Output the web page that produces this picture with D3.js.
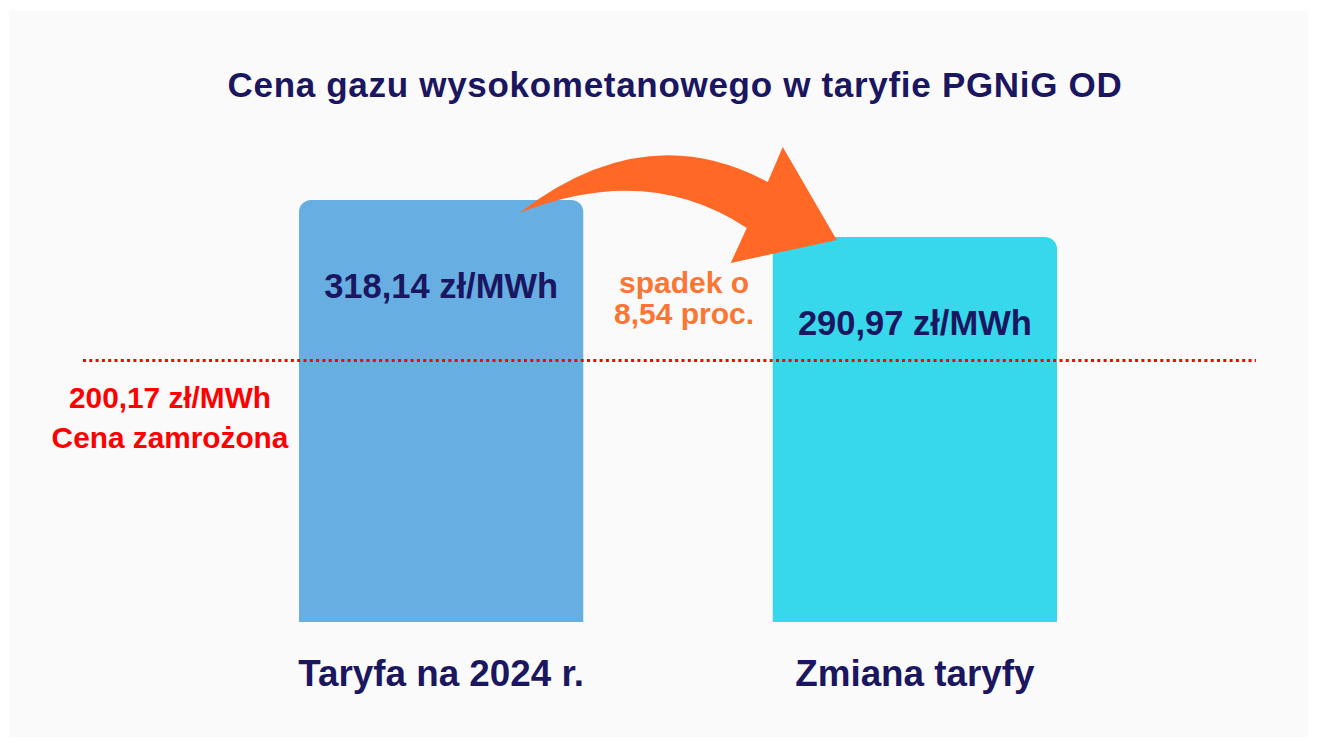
<!DOCTYPE html>
<html>
<head>
<meta charset="utf-8">
<style>
    body { margin: 0; background: #ffffff; }
    svg { display: block; font-family: 'Liberation Sans', Arimo, Arial, sans-serif; }
    .title { font-size: 35px; font-weight: bold; fill: #1b1660; }
    .val { font-size: 34.5px; font-weight: bold; fill: #1b1660; }
    .cat { font-size: 36.8px; font-weight: bold; fill: #1b1660; }
    .note { font-size: 30px; font-weight: bold; fill: #fb7533; }
    .ref { font-size: 29.8px; font-weight: bold; fill: #ff0000; }
</style>
</head>
<body>
<svg width="1317" height="746"></svg>

<script src="https://d3js.org/d3.v7.min.js"></script>
<script>
    // data
    let categories = ["Taryfa na 2024 r.", "Zmiana taryfy"]
    let prices = [318.14, 290.97]
    let priceLabels = ["318,14 zł/MWh", "290,97 zł/MWh"]
    let barColors = ["#67aee3", "#37d7ec"]
    let frozenPrice = 200.17
    let frozenLabels = ["200,17 zł/MWh", "Cena zamrożona"]
    let changeLabels = ["spadek o", "8,54 proc."]
    let title = "Cena gazu wysokometanowego w taryfie PGNiG OD"

    let width = 1317
    let height = 746
    let baseline = 622

    let svg = d3.select("svg")

    // light panel
    svg.append("rect")
        .attr("x", 9).attr("y", 11)
        .attr("width", width - 18).attr("height", height - 20)
        .style("fill", "#fafafa")

    let x = d3.scaleBand()
        .domain(categories)
        .range([299, 1057])
        .paddingInner(0.4)
        .paddingOuter(0)

    let y = d3.scaleLinear()
        .domain([0, 318.14])
        .range([633, 200])

    svg.append("text")
        .attr("class", "title")
        .attr("x", 675).attr("y", 97)
        .attr("text-anchor", "middle")
        .style("letter-spacing", "0.7px")
        .text(title)

    // bars with rounded top corners
    function barPath(x0, w, top, bottom, r) {
        let p = d3.path()
        p.moveTo(x0, bottom)
        p.lineTo(x0, top + r)
        p.arcTo(x0, top, x0 + r, top, r)
        p.lineTo(x0 + w - r, top)
        p.arcTo(x0 + w, top, x0 + w, top + r, r)
        p.lineTo(x0 + w, bottom)
        p.closePath()
        return p.toString()
    }

    svg.selectAll(".bar")
        .data(prices)
        .join("path")
        .attr("class", "bar")
        .attr("d", (d, i) => barPath(x(categories[i]), x.bandwidth(), y(d), baseline, 12))
        .style("fill", (d, i) => barColors[i])

    // curved arrow between the bars
    let x1 = x(categories[0]) + x.bandwidth()
    let x2 = x(categories[1])
    let t1 = y(prices[0])
    let t2 = y(prices[1])
    let a = d3.path()
    a.moveTo(x1 - 64, t1 + 13)
    a.quadraticCurveTo(x1 + 62, t1 - 84, x2 - 5, t1 - 18)
    a.lineTo(x2 + 10, t1 - 53)
    a.lineTo(x2 + 64, t2 + 3)
    a.lineTo(x2 - 42, t2 + 26)
    a.lineTo(x2 - 26, t2 - 9)
    a.quadraticCurveTo(x1 + 64, t1 - 38, x1 - 64, t1 + 13)
    a.closePath()
    svg.append("path")
        .attr("d", a.toString())
        .style("fill", "#ff6825")

    svg.selectAll(".val")
        .data(priceLabels)
        .join("text")
        .attr("class", "val")
        .attr("x", (d, i) => x(categories[i]) + x.bandwidth() / 2)
        .attr("y", (d, i) => y(prices[i]) + 98)
        .attr("text-anchor", "middle")
        .text(d => d)

    svg.selectAll(".cat")
        .data(categories)
        .join("text")
        .attr("class", "cat")
        .attr("x", d => x(d) + x.bandwidth() / 2)
        .attr("y", 686)
        .attr("text-anchor", "middle")
        .text(d => d)

    svg.selectAll(".note")
        .data(changeLabels)
        .join("text")
        .attr("class", "note")
        .attr("x", 684)
        .attr("y", (d, i) => 293 + i * 31)
        .attr("text-anchor", "middle")
        .text(d => d)

    // frozen price reference line
    svg.append("line")
        .attr("x1", 83).attr("x2", 1256)
        .attr("y1", y(frozenPrice)).attr("y2", y(frozenPrice))
        .style("stroke", "#ff0000")
        .style("stroke-width", 3)
        .style("stroke-dasharray", "3,3.3")

    svg.selectAll(".ref")
        .data(frozenLabels)
        .join("text")
        .attr("class", "ref")
        .attr("x", 170)
        .attr("y", (d, i) => 408 + i * 40)
        .attr("text-anchor", "middle")
        .text(d => d)
</script>
</body>
</html>
